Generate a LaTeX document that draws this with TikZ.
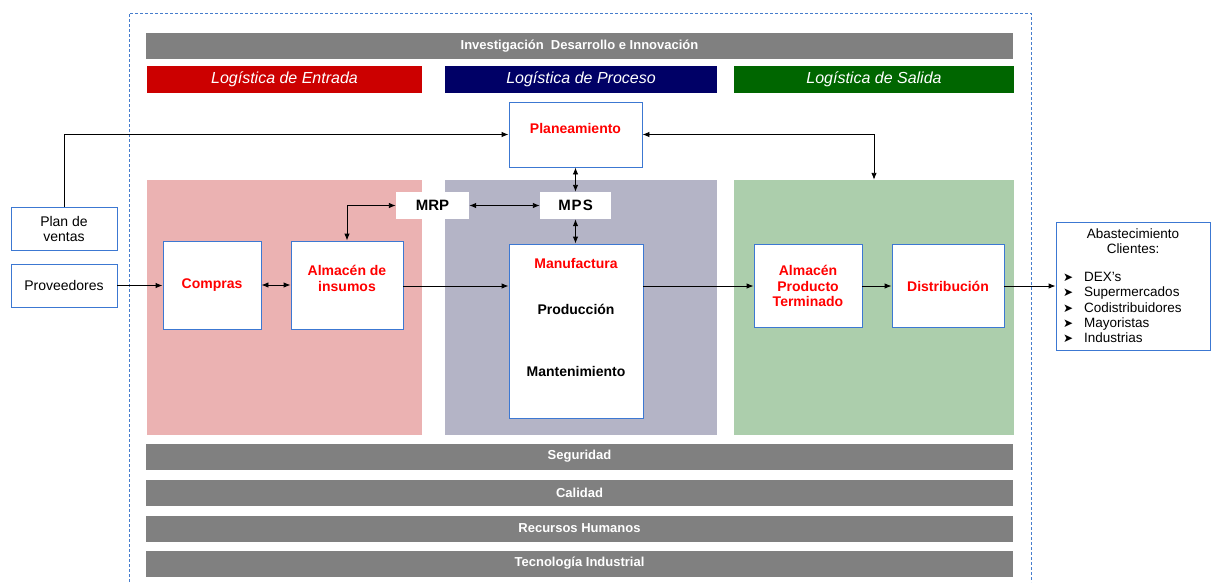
\documentclass[tikz,border=0pt]{standalone}
\usepackage{fontspec}
\setmainfont{Liberation Sans}
\newfontfamily\symfont{DejaVu Sans}
\usetikzlibrary{arrows.meta}
\definecolor{barGray}{RGB}{128,128,128}
\definecolor{logRed}{RGB}{204,0,0}
\definecolor{logNavy}{RGB}{0,0,102}
\definecolor{logGreen}{RGB}{0,102,0}
\definecolor{regPink}{RGB}{235,178,178}
\definecolor{regGray}{RGB}{180,180,198}
\definecolor{regGreen}{RGB}{172,206,172}
\definecolor{boxBlue}{RGB}{60,120,210}
\definecolor{frameBlue}{RGB}{70,125,205}
\definecolor{txtRed}{RGB}{255,0,0}
\newcommand\abul{\makebox[21pt][l]{\symfont\fontsize{12}{12}\selectfont ➤}}
\begin{document}
\begin{tikzpicture}[x=1pt,y=-1pt,
  bar/.style={fill=barGray, draw=none, text=white, font=\bfseries\fontsize{13}{15}\selectfont, minimum width=867, minimum height=26, inner sep=0},
  logi/.style={text=white, font=\itshape\fontsize{16}{18}\selectfont, minimum height=27, inner sep=0},
  region/.style={draw=none, minimum height=255, inner sep=0},
  box/.style={draw=boxBlue, line width=0.9pt, fill=white, inner sep=0},
  wbox/.style={fill=white, draw=none, inner sep=0, minimum height=27, font=\bfseries\fontsize{15}{17}\selectfont},
  rt/.style={text=txtRed, font=\bfseries\fontsize{14}{15.3}\selectfont, align=center},
  bt/.style={text=black, font=\bfseries\fontsize{14}{15.3}\selectfont, align=center},
  nt/.style={text=black, font=\fontsize{14}{15}\selectfont, align=center},
  conn/.style={line width=0.9pt, -{Latex[length=7pt,width=5.5pt]}},
  dconn/.style={line width=0.9pt, {Latex[length=7pt,width=5.5pt]}-{Latex[length=7pt,width=5.5pt]}},
  frame/.style={draw=frameBlue, line width=1pt, dash pattern=on 3pt off 2pt}]
\useasboundingbox (0,0) rectangle (1217,582);
\fill[white] (0,0) rectangle (1217,582);

% dashed frame
\draw[frame] (129,582) -- (129,13) -- (1031,13) -- (1031,582);

% top bars
\node[bar] (idi) at (579.5,46) {Investigación\ \ Desarrollo e Innovación};
\node[logi, fill=logRed, minimum width=275] (lent) at (284.5,79.5) {Logística de Entrada};
\node[logi, fill=logNavy, minimum width=272] (lpro) at (581,79.5) {Logística de Proceso};
\node[logi, fill=logGreen, minimum width=280] (lsal) at (874,79.5) {Logística de Salida};

% regions
\node[region, fill=regPink, minimum width=275] (rpink) at (284.5,307.5) {};
\node[region, fill=regGray, minimum width=272] (rgray) at (581,307.5) {};
\node[region, fill=regGreen, minimum width=280] (rgreen) at (874,307.5) {};

% bottom bars
\node[bar] (seg) at (579.5,456.5) {Seguridad};
\node[bar] (cal) at (579.5,492.5) {Calidad};
\node[bar] (rh) at (579.5,528.5) {Recursos Humanos};
\node[bar] (ti) at (579.5,563.5) {Tecnología Industrial};

% boxes
\node[box, minimum width=133, minimum height=65] (plan) at (575.5,134.5) {};
\node[rt] (plant) at (575.5,128) {Planeamiento};
\node[wbox, minimum width=73] (mrp) at (432.5,205.5) {MRP};
\node[wbox, minimum width=71] (mps) at (575.5,205.5) {M\kern1pt P\kern1pt S};
\node[box, minimum width=106, minimum height=43] (pv) at (64,228.5) {};
\node[nt] (pvt) at (64,228.5) {Plan de\\ventas};
\node[box, minimum width=106, minimum height=43] (prov) at (64,285.5) {};
\node[nt] (provt) at (64,285.5) {Proveedores};
\node[box, minimum width=98, minimum height=88] (comp) at (212,285) {};
\node[rt] (compt) at (212,285) {Compras};
\node[box, minimum width=112, minimum height=88] (alm) at (347,285) {};
\node[rt] (almt) at (347,278.5) {Almacén de\\insumos};
\node[box, minimum width=134, minimum height=174] (manuf) at (576,331) {};
\node[rt] (manuft) at (576,263) {Manufactura};
\node[bt] (prodt) at (576,309) {Producción};
\node[bt] (mantt) at (576,371) {Mantenimiento};
\node[box, minimum width=108, minimum height=83] (almpt) at (808,285.5) {};
\node[rt] (almptt) at (808,286) {Almacén\\Producto\\Terminado};
\node[box, minimum width=112, minimum height=83] (dist) at (948,285.5) {};
\node[rt] (distt) at (948,286) {Distribución};
\node[box, minimum width=154, minimum height=128] (abast) at (1133,286) {};
\node[nt, font=\fontsize{13.5}{15}\selectfont] (abt) at (1133,241.5) {Abastecimiento\\Clientes:};
\node[anchor=west, align=left, font=\fontsize{13.5}{15.25}\selectfont, inner sep=0] (lst) at (1063,307.5)
  {\abul DEX's\\\abul Supermercados\\\abul Codistribuidores\\\abul Mayoristas\\\abul Industrias};

% connectors
\draw[conn] (pv.north) |- (plan.west);
\draw[dconn] (plan.east) -| (rgreen.north);
\draw[dconn] (plan.south) -- (mps.north);
\draw[dconn] (mps.south) -- (mps.south |- manuf.north);
\draw[dconn] (mrp.east) -- (mps.west);
\draw[dconn] (mrp.west) -| (alm.north);
\draw[conn] (prov.east) -- (prov.east -| comp.west);
\draw[dconn] (comp.east) -- (alm.west);
\draw[conn] (alm.east |- 0,286) -- (manuf.west |- 0,286);
\draw[conn] (manuf.east |- 0,286) -- (almpt.west |- 0,286);
\draw[conn] (almpt.east |- 0,286) -- (dist.west |- 0,286);
\draw[conn] (dist.east |- 0,286) -- (abast.west |- 0,286);
\end{tikzpicture}
\end{document}
